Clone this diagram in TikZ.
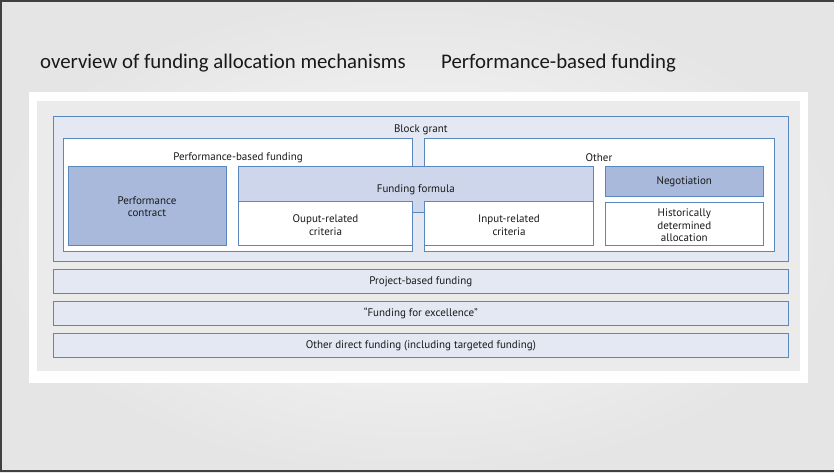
\documentclass[tikz,border=0pt]{standalone}
\usepackage{fontspec}
\setmainfont{PT Sans}
\newfontfamily\titlefont[Ligatures=NoCommon]{Carlito}
\definecolor{edgeblue}{HTML}{5B87BF}
\definecolor{paleblue}{HTML}{E3E8F3}
\definecolor{midblue}{HTML}{CDD6EB}
\definecolor{darkblue}{HTML}{A9B9DC}
\definecolor{panelgray}{HTML}{EBEBEB}
\begin{document}
\begin{tikzpicture}[x=1pt,y=-1pt,
    box/.style={draw=edgeblue, line width=0.8pt},
    lbl/.style={inner sep=0pt, align=center, text=black!90,
      font=\fontsize{11}{12.5}\selectfont},
    title/.style={inner sep=0pt, anchor=west, text=black!90,
      font=\titlefont\fontsize{20.8}{24}\selectfont}]
  \useasboundingbox (0,0) rectangle (834,472);

  % slide background and frame
  \shade[inner color=white!98!black, outer color=black!10] (0,0) rectangle (834,472);
  \draw[black!75, line width=2pt] (834,1) -- (1,1) -- (1,471) -- (834,471);

  % slide titles
  \node[title] (heading) at (40,63.5) {overview of funding allocation mechanisms};
  \node[title] (subject) at (441,63.5) {Performance-based funding};

  % white sheet and grey panel
  \fill[white] (29,92.3) rectangle (808.3,382.5);
  \fill[panelgray] (37.3,100.7) rectangle (800,370.5);

  % block grant and its two groups
  \filldraw[box, fill=paleblue] (53.3,116.7) rectangle (788.3,261.7);
  \filldraw[box, fill=white] (63.3,138.3) rectangle (412.7,251.7);
  \filldraw[box, fill=white] (424.3,138.3) rectangle (774,251.7);

  % inner boxes
  \filldraw[box, fill=darkblue] (68.3,166) rectangle (226,245.7);
  \filldraw[box, fill=midblue] (238.3,166) -| (593.3,201.7) -- (424.3,201.7)
    |- (412.7,212.7) -- (412.7,201.7) -- (238.3,201.7) -- cycle;
  \filldraw[box, fill=white] (238.3,201.7) rectangle (412.7,245.7);
  \filldraw[box, fill=white] (424.3,201.7) rectangle (593.3,245.7);
  \filldraw[box, fill=darkblue] (605.3,166.7) rectangle (763.3,196);
  \filldraw[box, fill=white] (605.3,202) rectangle (763.3,245.7);

  % other mechanisms
  \filldraw[box, fill=paleblue] (53.3,269) rectangle (788.3,293);
  \filldraw[box, fill=paleblue] (53.3,301) rectangle (788.3,325);
  \filldraw[box, fill=paleblue] (53.3,333) rectangle (788.3,357);

  % labels
  \node[lbl] (block) at (420.8,130) {Block grant};
  \node[lbl] (pbf) at (238,158) {Performance-based funding};
  \node[lbl] (other) at (599,158) {Other};
  \node[lbl] (contract) at (147,206.8) {Performance\\contract};
  \node[lbl] (formula) at (415.8,189.5) {Funding formula};
  \node[lbl] (output) at (325.5,225.2) {Ouput-related\\criteria};
  \node[lbl] (input) at (509,225.2) {Input-related\\criteria};
  \node[lbl] (negotiation) at (684.3,182) {Negotiation};
  \node[lbl] (historic) at (684.3,225.5) {Historically\\determined\\allocation};
  \node[lbl] (project) at (420.8,281.5) {Project-based funding};
  \node[lbl] (excellence) at (420.8,313.5) {“Funding for excellence”};
  \node[lbl] (direct) at (420.8,345.5) {Other direct funding (including targeted funding)};
\end{tikzpicture}
\end{document}
